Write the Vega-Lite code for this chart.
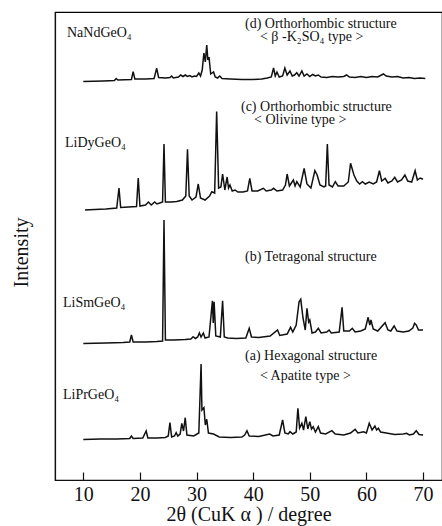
{
  "$schema": "https://vega.github.io/schema/vega-lite/v6.json",
  "autosize": {"type": "none"},
  "width": 387,
  "height": 468,
  "padding": {"left": 55, "top": 12, "right": 0, "bottom": 46},
  "background": "white",
  "config": {
    "view": {"stroke": "black", "strokeWidth": 1.2},
    "font": "Liberation Serif"
  },
  "datasets": {
    "traces": [
      {"s":"d","x":10.0,"y":398.5},{"s":"d","x":13.5,"y":399},{"s":"d","x":15.5,"y":399.5},{"s":"d","x":15.8,"y":401.5},{"s":"d","x":16.1,"y":400},{"s":"d","x":18.5,"y":400.5},{"s":"d","x":18.8,"y":408.3},{"s":"d","x":19.1,"y":401},{"s":"d","x":21,"y":401},{"s":"d","x":22.5,"y":401.5},{"s":"d","x":22.96,"y":411.7},{"s":"d","x":23.3,"y":402.5},{"s":"d","x":24.5,"y":402},{"s":"d","x":25.3,"y":402.5},{"s":"d","x":25.6,"y":404},{"s":"d","x":25.9,"y":402},{"s":"d","x":26.8,"y":403},{"s":"d","x":27.2,"y":405},{"s":"d","x":27.6,"y":403.5},{"s":"d","x":28.0,"y":405},{"s":"d","x":28.4,"y":403.5},{"s":"d","x":28.8,"y":404.5},{"s":"d","x":29.2,"y":403},{"s":"d","x":29.6,"y":404},{"s":"d","x":30.0,"y":403.5},{"s":"d","x":30.4,"y":407},{"s":"d","x":30.7,"y":404},{"s":"d","x":31.0,"y":410},{"s":"d","x":31.3,"y":427},{"s":"d","x":31.55,"y":418},{"s":"d","x":31.8,"y":435},{"s":"d","x":32.0,"y":420},{"s":"d","x":32.2,"y":423},{"s":"d","x":32.5,"y":406},{"s":"d","x":33.0,"y":408},{"s":"d","x":33.3,"y":403},{"s":"d","x":33.7,"y":402},{"s":"d","x":34.1,"y":404},{"s":"d","x":34.5,"y":401.5},{"s":"d","x":36,"y":401},{"s":"d","x":38,"y":400.5},{"s":"d","x":40,"y":400.5},{"s":"d","x":41.5,"y":401},{"s":"d","x":42.5,"y":402},{"s":"d","x":43.2,"y":403},{"s":"d","x":43.6,"y":412},{"s":"d","x":43.9,"y":404},{"s":"d","x":44.2,"y":408},{"s":"d","x":44.6,"y":403},{"s":"d","x":45.2,"y":404},{"s":"d","x":45.6,"y":412},{"s":"d","x":46.0,"y":405},{"s":"d","x":46.5,"y":409},{"s":"d","x":46.9,"y":404},{"s":"d","x":47.3,"y":405},{"s":"d","x":47.7,"y":407.3},{"s":"d","x":48.1,"y":404},{"s":"d","x":48.6,"y":409},{"s":"d","x":49.0,"y":404},{"s":"d","x":49.5,"y":406},{"s":"d","x":50.0,"y":403.5},{"s":"d","x":50.5,"y":405.5},{"s":"d","x":51.0,"y":404},{"s":"d","x":51.5,"y":405},{"s":"d","x":52.0,"y":403},{"s":"d","x":53,"y":402.5},{"s":"d","x":54,"y":403.5},{"s":"d","x":55,"y":403},{"s":"d","x":56.0,"y":403.5},{"s":"d","x":56.5,"y":405},{"s":"d","x":57.0,"y":403},{"s":"d","x":58,"y":402.5},{"s":"d","x":59,"y":403.5},{"s":"d","x":60,"y":402.5},{"s":"d","x":61,"y":403.5},{"s":"d","x":62,"y":403},{"s":"d","x":63,"y":406},{"s":"d","x":63.5,"y":404},{"s":"d","x":64.5,"y":403},{"s":"d","x":65.5,"y":403.5},{"s":"d","x":66.5,"y":402},{"s":"d","x":67.5,"y":402.5},{"s":"d","x":68.5,"y":401.5},{"s":"d","x":69.5,"y":402},{"s":"d","x":70.4,"y":401.5},

      {"s":"c","x":10.3,"y":270},{"s":"c","x":12,"y":270.5},{"s":"c","x":14,"y":271},{"s":"c","x":15.9,"y":272},{"s":"c","x":16.3,"y":292},{"s":"c","x":16.6,"y":272.5},{"s":"c","x":18,"y":273},{"s":"c","x":19.4,"y":273.5},{"s":"c","x":19.7,"y":302},{"s":"c","x":20.0,"y":274},{"s":"c","x":21,"y":275},{"s":"c","x":21.5,"y":278},{"s":"c","x":22,"y":275},{"s":"c","x":22.6,"y":278},{"s":"c","x":23,"y":276},{"s":"c","x":23.5,"y":277},{"s":"c","x":24.0,"y":278},{"s":"c","x":24.25,"y":336},{"s":"c","x":24.5,"y":278},{"s":"c","x":25.5,"y":278},{"s":"c","x":26.5,"y":278.5},{"s":"c","x":27.5,"y":280},{"s":"c","x":28.1,"y":284},{"s":"c","x":28.4,"y":330.7},{"s":"c","x":28.7,"y":284},{"s":"c","x":29.2,"y":280},{"s":"c","x":29.9,"y":283},{"s":"c","x":30.3,"y":296},{"s":"c","x":30.7,"y":282},{"s":"c","x":31.5,"y":280},{"s":"c","x":32.3,"y":284},{"s":"c","x":32.7,"y":288.3},{"s":"c","x":33.2,"y":287},{"s":"c","x":33.55,"y":368.5},{"s":"c","x":33.9,"y":292},{"s":"c","x":34.3,"y":293},{"s":"c","x":34.6,"y":306},{"s":"c","x":35.0,"y":290},{"s":"c","x":35.4,"y":303},{"s":"c","x":35.65,"y":292},{"s":"c","x":35.9,"y":295},{"s":"c","x":36.3,"y":289},{"s":"c","x":36.8,"y":290},{"s":"c","x":37.3,"y":288},{"s":"c","x":38.2,"y":288},{"s":"c","x":39.0,"y":289},{"s":"c","x":39.4,"y":301.7},{"s":"c","x":39.8,"y":289},{"s":"c","x":40.8,"y":289},{"s":"c","x":41.8,"y":291.7},{"s":"c","x":42.3,"y":289},{"s":"c","x":43.2,"y":290},{"s":"c","x":43.6,"y":291.7},{"s":"c","x":44.2,"y":289},{"s":"c","x":45.2,"y":290},{"s":"c","x":45.7,"y":295},{"s":"c","x":46.0,"y":306},{"s":"c","x":46.4,"y":294},{"s":"c","x":47.1,"y":300},{"s":"c","x":47.4,"y":294},{"s":"c","x":47.7,"y":298.3},{"s":"c","x":48.3,"y":293},{"s":"c","x":49.0,"y":311.7},{"s":"c","x":49.5,"y":296},{"s":"c","x":50.2,"y":292},{"s":"c","x":50.9,"y":309.3},{"s":"c","x":51.3,"y":305},{"s":"c","x":51.8,"y":295},{"s":"c","x":52.5,"y":293},{"s":"c","x":52.8,"y":294},{"s":"c","x":53.1,"y":336},{"s":"c","x":53.4,"y":295},{"s":"c","x":54.0,"y":293},{"s":"c","x":54.5,"y":298.3},{"s":"c","x":55.0,"y":294},{"s":"c","x":56.0,"y":294},{"s":"c","x":56.8,"y":298},{"s":"c","x":57.2,"y":316.7},{"s":"c","x":57.8,"y":305},{"s":"c","x":58.3,"y":299},{"s":"c","x":58.8,"y":296},{"s":"c","x":59.3,"y":298.3},{"s":"c","x":59.8,"y":296},{"s":"c","x":60.5,"y":298},{"s":"c","x":61.2,"y":296},{"s":"c","x":61.8,"y":298},{"s":"c","x":62.3,"y":309.3},{"s":"c","x":62.7,"y":299},{"s":"c","x":63.3,"y":301.7},{"s":"c","x":63.8,"y":297},{"s":"c","x":64.5,"y":299},{"s":"c","x":65.0,"y":302.7},{"s":"c","x":65.5,"y":298},{"s":"c","x":66.2,"y":300},{"s":"c","x":66.8,"y":305},{"s":"c","x":67.3,"y":299},{"s":"c","x":68.0,"y":298},{"s":"c","x":68.6,"y":309.3},{"s":"c","x":69.0,"y":300},{"s":"c","x":69.5,"y":302},{"s":"c","x":70.0,"y":300.7},

      {"s":"b","x":10,"y":136.5},{"s":"b","x":14,"y":137},{"s":"b","x":17,"y":137.5},{"s":"b","x":18.2,"y":138},{"s":"b","x":18.5,"y":145},{"s":"b","x":18.8,"y":138},{"s":"b","x":21,"y":138},{"s":"b","x":23,"y":138.5},{"s":"b","x":24.0,"y":139},{"s":"b","x":24.25,"y":260},{"s":"b","x":24.5,"y":140},{"s":"b","x":26,"y":140},{"s":"b","x":28,"y":140.5},{"s":"b","x":29.0,"y":141},{"s":"b","x":29.4,"y":143.3},{"s":"b","x":29.8,"y":141.5},{"s":"b","x":30.2,"y":143},{"s":"b","x":30.5,"y":147},{"s":"b","x":30.8,"y":143},{"s":"b","x":31.2,"y":147},{"s":"b","x":31.5,"y":142},{"s":"b","x":32.2,"y":143},{"s":"b","x":32.8,"y":179.3},{"s":"b","x":32.95,"y":157},{"s":"b","x":33.1,"y":178.3},{"s":"b","x":33.4,"y":144},{"s":"b","x":34.2,"y":143},{"s":"b","x":34.6,"y":179.3},{"s":"b","x":34.9,"y":143},{"s":"b","x":35.5,"y":142},{"s":"b","x":37,"y":141.5},{"s":"b","x":38.7,"y":142},{"s":"b","x":39.3,"y":151.7},{"s":"b","x":39.7,"y":143},{"s":"b","x":41,"y":142.5},{"s":"b","x":43,"y":144},{"s":"b","x":44.3,"y":150},{"s":"b","x":44.7,"y":144.5},{"s":"b","x":46,"y":146},{"s":"b","x":46.6,"y":152.7},{"s":"b","x":47.0,"y":148},{"s":"b","x":47.6,"y":155},{"s":"b","x":48.1,"y":178},{"s":"b","x":48.4,"y":180.7},{"s":"b","x":48.8,"y":162},{"s":"b","x":49.2,"y":150},{"s":"b","x":49.5,"y":171.7},{"s":"b","x":49.8,"y":158},{"s":"b","x":50.0,"y":160},{"s":"b","x":50.4,"y":147},{"s":"b","x":51.0,"y":148},{"s":"b","x":51.5,"y":151.7},{"s":"b","x":52.0,"y":147},{"s":"b","x":53.0,"y":148},{"s":"b","x":53.4,"y":150},{"s":"b","x":53.8,"y":147},{"s":"b","x":55.2,"y":148},{"s":"b","x":55.7,"y":172.7},{"s":"b","x":56.0,"y":149},{"s":"b","x":57.0,"y":149},{"s":"b","x":57.5,"y":151.7},{"s":"b","x":58.0,"y":148},{"s":"b","x":59.0,"y":149},{"s":"b","x":59.8,"y":151},{"s":"b","x":60.3,"y":162.7},{"s":"b","x":60.6,"y":155},{"s":"b","x":60.8,"y":160},{"s":"b","x":61.2,"y":151},{"s":"b","x":62.0,"y":149},{"s":"b","x":63.3,"y":157.3},{"s":"b","x":63.8,"y":150},{"s":"b","x":64.3,"y":149},{"s":"b","x":64.9,"y":154},{"s":"b","x":65.4,"y":149},{"s":"b","x":66.5,"y":148},{"s":"b","x":67.5,"y":149},{"s":"b","x":68.2,"y":152},{"s":"b","x":68.5,"y":156.7},{"s":"b","x":68.8,"y":155},{"s":"b","x":69.2,"y":150},{"s":"b","x":70.0,"y":150},

      {"s":"a","x":10,"y":40.5},{"s":"a","x":13,"y":41},{"s":"a","x":16,"y":41},{"s":"a","x":18.2,"y":41.5},{"s":"a","x":18.5,"y":44},{"s":"a","x":18.8,"y":41.5},{"s":"a","x":20.5,"y":42},{"s":"a","x":21.1,"y":49},{"s":"a","x":21.4,"y":42},{"s":"a","x":23,"y":42},{"s":"a","x":24.5,"y":42.5},{"s":"a","x":25.0,"y":44},{"s":"a","x":25.3,"y":57.3},{"s":"a","x":25.6,"y":43},{"s":"a","x":26.1,"y":44},{"s":"a","x":26.4,"y":47.3},{"s":"a","x":26.7,"y":44},{"s":"a","x":27.1,"y":46},{"s":"a","x":27.4,"y":56.7},{"s":"a","x":27.7,"y":49},{"s":"a","x":28.0,"y":62.3},{"s":"a","x":28.3,"y":45},{"s":"a","x":29.5,"y":44},{"s":"a","x":30.4,"y":47},{"s":"a","x":30.8,"y":116},{"s":"a","x":30.95,"y":70},{"s":"a","x":31.3,"y":72.3},{"s":"a","x":31.55,"y":55},{"s":"a","x":31.8,"y":60.7},{"s":"a","x":32.1,"y":47},{"s":"a","x":33.0,"y":46},{"s":"a","x":34,"y":43},{"s":"a","x":36,"y":42.5},{"s":"a","x":38.0,"y":43},{"s":"a","x":38.5,"y":45},{"s":"a","x":38.9,"y":49.3},{"s":"a","x":39.3,"y":44},{"s":"a","x":41,"y":43.5},{"s":"a","x":42.9,"y":46},{"s":"a","x":43.5,"y":44},{"s":"a","x":44.6,"y":45},{"s":"a","x":45.2,"y":60},{"s":"a","x":45.6,"y":47},{"s":"a","x":46.2,"y":46},{"s":"a","x":46.5,"y":48.3},{"s":"a","x":47.0,"y":46},{"s":"a","x":47.6,"y":48},{"s":"a","x":47.9,"y":71.7},{"s":"a","x":48.2,"y":52},{"s":"a","x":48.6,"y":56.7},{"s":"a","x":48.9,"y":50},{"s":"a","x":49.3,"y":63.3},{"s":"a","x":49.65,"y":51},{"s":"a","x":50.0,"y":58.3},{"s":"a","x":50.3,"y":51},{"s":"a","x":50.6,"y":53.3},{"s":"a","x":51.0,"y":48},{"s":"a","x":51.5,"y":53.3},{"s":"a","x":51.9,"y":47},{"s":"a","x":52.8,"y":46},{"s":"a","x":53.9,"y":49.3},{"s":"a","x":54.5,"y":46},{"s":"a","x":56,"y":45},{"s":"a","x":57.2,"y":47},{"s":"a","x":58.0,"y":50.7},{"s":"a","x":58.5,"y":47},{"s":"a","x":59.5,"y":48.3},{"s":"a","x":60.0,"y":47},{"s":"a","x":60.5,"y":56.7},{"s":"a","x":61.0,"y":50},{"s":"a","x":61.5,"y":54},{"s":"a","x":61.8,"y":50},{"s":"a","x":62.1,"y":51.7},{"s":"a","x":62.5,"y":48},{"s":"a","x":63.5,"y":47},{"s":"a","x":65,"y":45.5},{"s":"a","x":66.5,"y":46},{"s":"a","x":67.1,"y":46.7},{"s":"a","x":67.6,"y":45},{"s":"a","x":68.3,"y":46},{"s":"a","x":68.8,"y":49.3},{"s":"a","x":69.3,"y":45.5},{"s":"a","x":70.0,"y":45}
    ],
    "labels": [
      {"t":"NaNdGeO₄","x":7.12,"y":447},
      {"t":"(d) Orthorhombic structure","x":38.56,"y":456.5},
      {"t":"< β -K₂SO₄ type >","x":41.2,"y":443},
      {"t":"(c) Orthorhombic structure","x":37.85,"y":373.5},
      {"t":"< Olivine type >","x":40.15,"y":360},
      {"t":"LiDyGeO₄","x":6.77,"y":337},
      {"t":"(b) Tetragonal structure","x":38.56,"y":223},
      {"t":"LiSmGeO₄","x":6.41,"y":177},
      {"t":"(a) Hexagonal structure","x":38.56,"y":124.5},
      {"t":"< Apatite type >","x":41.2,"y":104},
      {"t":"LiPrGeO₄","x":6.41,"y":85}
    ]
  },
  "layer": [
    {
      "data": {"name": "traces"},
      "mark": {"type": "line", "color": "#111", "strokeWidth": 1.5, "strokeJoin": "miter", "clip": true},
      "encoding": {
        "x": {
          "field": "x", "type": "quantitative",
          "scale": {"domain": [5, 73.35], "nice": false, "zero": false},
          "axis": {
            "title": "2θ (CuK α ) / degree",
            "titleFont": "Liberation Serif", "titleFontSize": 20, "titleFontWeight": "normal", "titleColor": "#111",
            "titlePadding": 0,
            "values": [10, 20, 30, 40, 50, 60, 70],
            "labelFont": "Liberation Serif", "labelFontSize": 20, "labelColor": "#111",
            "tickSize": -8, "tickColor": "#111", "tickWidth": 1.2,
            "labelPadding": 12,
            "domainColor": "#111", "domainWidth": 1.2,
            "grid": false
          }
        },
        "y": {
          "field": "y", "type": "quantitative",
          "scale": {"domain": [0, 468], "nice": false, "zero": false},
          "axis": {
            "title": "Intensity",
            "titleFont": "Liberation Serif", "titleFontSize": 20, "titleFontWeight": "normal", "titleColor": "#111",
            "titlePadding": 24,
            "titleY": 240,
            "labels": false, "ticks": false,
            "domainColor": "#111", "domainWidth": 1.2,
            "grid": false
          }
        },
        "detail": {"field": "s"}
      }
    },
    {
      "data": {"name": "labels"},
      "mark": {"type": "text", "align": "left", "baseline": "middle", "font": "Liberation Serif", "fontSize": 14, "color": "#111"},
      "encoding": {
        "x": {"field": "x", "type": "quantitative"},
        "y": {"field": "y", "type": "quantitative"},
        "text": {"field": "t"}
      }
    }
  ]
}
